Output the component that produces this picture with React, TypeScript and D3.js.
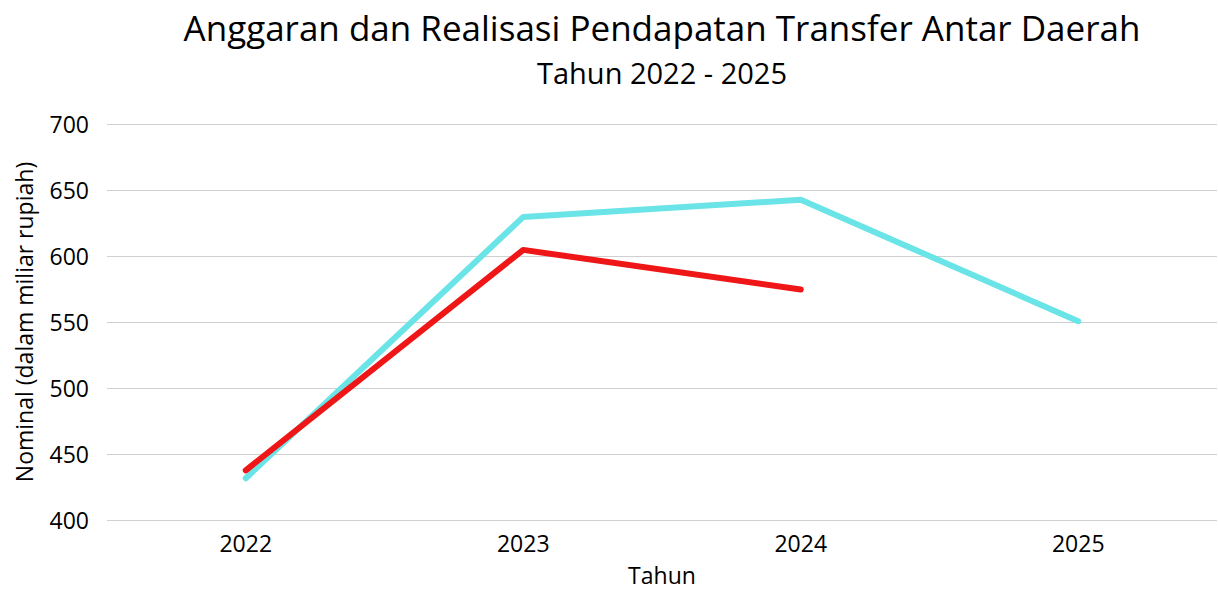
import React from "react";
import * as d3 from "d3";

const years = ["2022", "2023", "2024", "2025"];
const anggaran = [432, 630, 643, 551];
const realisasi = [438, 605, 575];
const yTicks = [400, 450, 500, 550, 600, 650, 700];

const W = 1218;
const H = 589;
const FONT = "'Open Sans', sans-serif";

export default function App() {
  const x = d3.scaleBand<string>().domain(years).range([107, 1217]);
  const y = d3.scaleLinear().domain([400, 700]).range([520.5, 124.5]);
  const cx = (d: string) => (x(d) as number) + x.bandwidth() / 2;

  const line = d3
    .line<number>()
    .x((_, i) => cx(years[i]))
    .y((v) => y(v));

  return (
    <svg
      width={W}
      height={H}
      style={{ position: "absolute", left: 0, top: 0, background: "#fff" }}
      fontFamily={FONT}
    >
      <text x={662} y={41} textAnchor="middle" fontSize={35} fill="#000">
        Anggaran dan Realisasi Pendapatan Transfer Antar Daerah
      </text>
      <text x={662} y={84} textAnchor="middle" fontSize={29} fill="#000">
        Tahun 2022 - 2025
      </text>
      {yTicks.map((t) => (
        <g key={t}>
          <line x1={107} x2={1217} y1={y(t)} y2={y(t)} stroke="#d0d0d0" strokeWidth={1} />
          <text x={89} y={y(t)} dy="0.36em" textAnchor="end" fontSize={23} fill="#000">
            {t}
          </text>
        </g>
      ))}
      {years.map((yr) => (
        <text key={yr} x={cx(yr)} y={552} textAnchor="middle" fontSize={23} fill="#000">
          {yr}
        </text>
      ))}
      <text x={662} y={584} textAnchor="middle" fontSize={23} fill="#000">
        Tahun
      </text>
      <text
        transform={`translate(33, ${322}) rotate(-90)`}
        textAnchor="middle"
        fontSize={23}
        fill="#000"
      >
        Nominal (dalam miliar rupiah)
      </text>
      <path
        d={line(anggaran) || ""}
        fill="none"
        stroke="#6ae4e6"
        strokeWidth={6}
        strokeLinecap="round"
        strokeLinejoin="round"
      />
      <path
        d={line(realisasi) || ""}
        fill="none"
        stroke="#ee1616"
        strokeWidth={6}
        strokeLinecap="round"
        strokeLinejoin="round"
      />
    </svg>
  );
}
